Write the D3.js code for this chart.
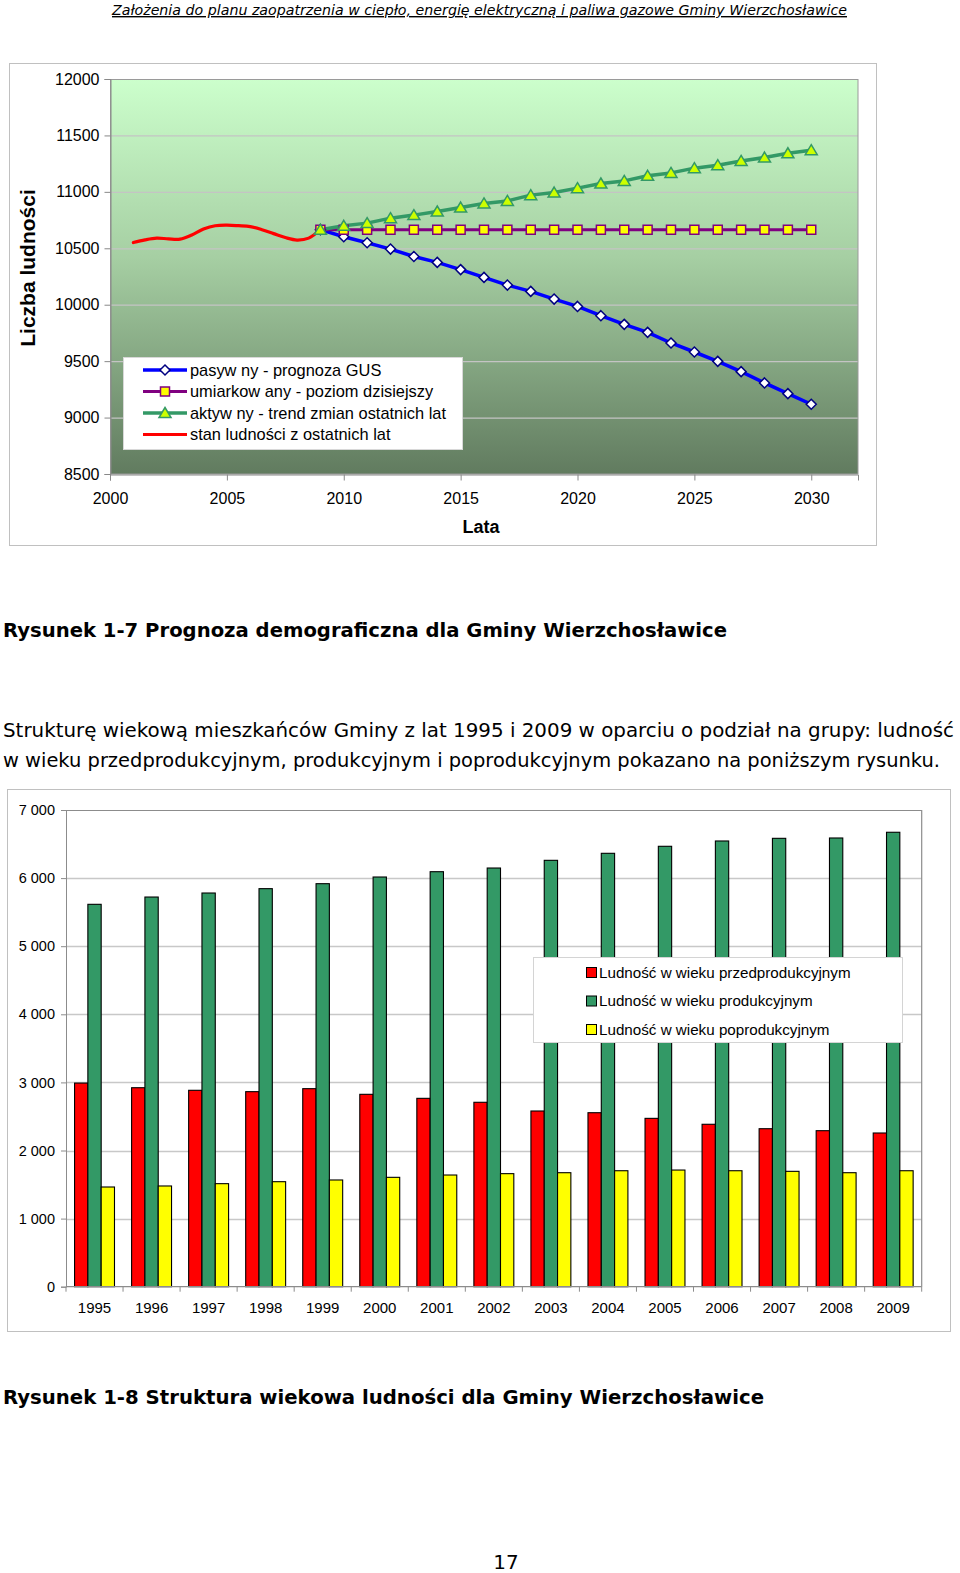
<!DOCTYPE html>
<html><head><meta charset="utf-8">
<script src="https://cdn.jsdelivr.net/npm/d3@7/dist/d3.min.js"></script>
<style>
body{margin:0;background:#fff}
svg{display:block}
</style>
</head><body>
<svg id="page" width="960" height="1573"></svg>
<script>
// ---------- DATA: chart 1 (Prognoza demograficzna) ----------
const forecastYears = [2009,2010,2011,2012,2013,2014,2015,2016,2017,2018,2019,2020,2021,2022,2023,2024,2025,2026,2027,2028,2029,2030];
const pasywny     = [10665,10602,10549,10493,10427,10375,10311,10242,10174,10118,10050,9985,9903,9826,9755,9661,9581,9498,9407,9307,9212,9118];
const umiarkowany = [10665,10665,10665,10665,10665,10665,10665,10665,10665,10665,10665,10665,10665,10665,10665,10665,10665,10665,10665,10665,10665,10665];
const aktywny     = [10665,10699,10723,10767,10794,10826,10861,10897,10920,10971,10994,11033,11074,11097,11142,11168,11210,11236,11274,11304,11342,11369];
const histYears   = [2001,2001.5,2002,2002.5,2003,2003.5,2004,2004.5,2005,2005.5,2006,2006.5,2007,2007.5,2008,2008.5,2009];
const histValues  = [10551,10575,10590,10583,10581,10618,10670,10700,10705,10700,10692,10665,10630,10595,10573,10590,10665];
const topYTicks   = [8500,9000,9500,10000,10500,11000,11500,12000];
const topXTicks   = [2000,2005,2010,2015,2020,2025,2030];
const lineNames   = ["pasyw ny - prognoza GUS","umiarkow any - poziom dzisiejszy","aktyw ny - trend zmian ostatnich lat","stan ludności z ostatnich lat"];

// ---------- DATA: chart 2 (Struktura wiekowa) ----------
const barYears = ["1995","1996","1997","1998","1999","2000","2001","2002","2003","2004","2005","2006","2007","2008","2009"];
const przedprodukcyjny = [2990,2922,2884,2864,2908,2825,2766,2708,2580,2555,2472,2385,2320,2291,2257];
const produkcyjny      = [5615,5722,5781,5845,5918,6016,6094,6148,6261,6364,6467,6545,6584,6589,6673];
const poprodukcyjny    = [1464,1479,1513,1542,1567,1606,1640,1660,1674,1703,1713,1703,1694,1674,1703];
const barSeriesNames = ["Ludność w wieku przedprodukcyjnym","Ludność w wieku produkcyjnym","Ludność w wieku poprodukcyjnym"];
const barYTicks = [0,1000,2000,3000,4000,5000,6000,7000];

const svg = d3.select("#page");
const ARIAL = "'Liberation Sans', Arial, sans-serif";
const TAHOMA = "'DejaVu Sans', Verdana, sans-serif";

// ---------- header ----------
svg.append("text").attr("x",112).attr("y",15)
  .attr("font-family",TAHOMA).attr("font-style","italic").attr("font-size",14)
  .attr("textLength",735).attr("lengthAdjust","spacingAndGlyphs")
  .attr("text-decoration","underline").attr("fill","#000")
  .text("Założenia do planu zaopatrzenia w ciepło, energię elektryczną i paliwa gazowe Gminy Wierzchosławice");

// ================= CHART 1 =================
svg.append("rect").attr("x",9.5).attr("y",63.5).attr("width",867).attr("height",482)
  .attr("fill","#fff").attr("stroke","#c0c0c0");

const x1 = d3.scaleLinear().domain([2000,2032]).range([110,858]);
const y1 = d3.scaleLinear().domain([8500,12000]).range([474,79]);

const defs = svg.append("defs");
const grad = defs.append("linearGradient").attr("id","bg1").attr("x1",0).attr("y1",0).attr("x2",0).attr("y2",1);
grad.append("stop").attr("offset","0%").attr("stop-color","#ccffcc");
grad.append("stop").attr("offset","45%").attr("stop-color","#a6cfa3");
grad.append("stop").attr("offset","100%").attr("stop-color","#617b5f");

svg.append("rect").attr("x",110).attr("y",79).attr("width",748).attr("height",395)
  .attr("fill","url(#bg1)");

// gridlines
svg.append("g").selectAll("line").data(topYTicks.filter(d=>d>8500 && d<12000)).join("line")
  .attr("x1",110).attr("x2",858).attr("y1",d=>y1(d)+0.5).attr("y2",d=>y1(d)+0.5)
  .attr("stroke","#c4c4c4").attr("stroke-width",1.2);
// plot border
svg.append("rect").attr("x",110.5).attr("y",79.5).attr("width",747.5).attr("height",394.5)
  .attr("fill","none").attr("stroke","#9a9a9a");

// axes
const yAx1 = svg.append("g").attr("transform","translate(110.5,0)")
  .call(d3.axisLeft(y1).tickValues(topYTicks).tickSize(6).tickPadding(5).tickFormat(d3.format("d")));
yAx1.select(".domain").attr("stroke","#888");
yAx1.selectAll(".tick line").attr("stroke","#888");
yAx1.selectAll("text").attr("font-family",ARIAL).attr("font-size",16).attr("fill","#000");

const xAx1 = svg.append("g").attr("transform","translate(0,474.5)")
  .call(d3.axisBottom(x1).tickValues(topXTicks).tickSize(6).tickPadding(12).tickFormat(d3.format("d")));
xAx1.select(".domain").attr("stroke","#888");
xAx1.selectAll(".tick line").attr("stroke","#888");
xAx1.selectAll("text").attr("font-family",ARIAL).attr("font-size",16).attr("fill","#000");

svg.append("text").attr("transform","translate(27,268) rotate(-90)")
  .attr("text-anchor","middle").attr("dominant-baseline","central")
  .attr("font-family",ARIAL).attr("font-weight","bold").attr("font-size",21).text("Liczba ludności");
svg.append("text").attr("x",481).attr("y",533).attr("text-anchor","middle")
  .attr("font-family",ARIAL).attr("font-weight","bold").attr("font-size",18).text("Lata");

// lines
const lineGen = d3.line().x(d=>x1(d[0])).y(d=>y1(d[1]));
const histLine = d3.line().x(d=>x1(d[0])).y(d=>y1(d[1])).curve(d3.curveCatmullRom);

const seriesCfg = [
  {vals:pasywny, color:"#0000ff", w:3.5, marker:"diamond", fill:"#fff", mstroke:"#000080"},
  {vals:umiarkowany, color:"#800080", w:3, marker:"square", fill:"#ffff00", mstroke:"#800080"},
  {vals:aktywny, color:"#339966", w:3.5, marker:"triangle", fill:"#ccff00", mstroke:"#339966"}
];
function markerPath(type){
  if(type==="diamond") return "M0,-5L5,0L0,5L-5,0Z";
  if(type==="square") return "M-4.5,-4.5H4.5V4.5H-4.5Z";
  return "M0,-5.5L6,4.5H-6Z";
}

svg.append("path").datum(histYears.map((y,i)=>[y,histValues[i]]))
  .attr("d",histLine).attr("fill","none").attr("stroke","#ff0000").attr("stroke-width",3.2)
  .attr("stroke-linejoin","round").attr("stroke-linecap","round");

seriesCfg.forEach(s=>{
  const pts = forecastYears.map((y,i)=>[y,s.vals[i]]);
  svg.append("path").datum(pts).attr("d",lineGen).attr("fill","none")
    .attr("stroke",s.color).attr("stroke-width",s.w).attr("stroke-linejoin","round");
});
seriesCfg.forEach(s=>{
  const pts = forecastYears.map((y,i)=>[y,s.vals[i]]);
  svg.append("g").selectAll("path").data(pts).join("path")
    .attr("transform",d=>`translate(${x1(d[0])},${y1(d[1])})`)
    .attr("d",markerPath(s.marker)).attr("fill",s.fill).attr("stroke",s.mstroke).attr("stroke-width",1.5);
});

// legend 1
const lg1 = svg.append("g");
lg1.append("rect").attr("x",123.5).attr("y",357.5).attr("width",339).attr("height",92)
  .attr("fill","#fff").attr("stroke","#d8d8d8");
const legRows = [370,391.5,413,434.5];
const legCfg = [...seriesCfg, {color:"#ff0000", w:3, marker:null}];
legCfg.forEach((s,i)=>{
  const yy = legRows[i];
  lg1.append("line").attr("x1",143).attr("x2",187).attr("y1",yy).attr("y2",yy)
    .attr("stroke",s.color).attr("stroke-width",s.w);
  if(s.marker) lg1.append("path").attr("transform",`translate(165,${yy})`).attr("d",markerPath(s.marker))
    .attr("fill",s.fill).attr("stroke",s.mstroke).attr("stroke-width",1.5);
  lg1.append("text").attr("x",190).attr("y",yy).attr("dy","0.36em")
    .attr("font-family",ARIAL).attr("font-size",16.4).text(lineNames[i]);
});

// caption 1
svg.append("text").attr("x",3).attr("y",637)
  .attr("font-family",TAHOMA).attr("font-weight","bold").attr("font-size",19)
  .attr("textLength",724).attr("lengthAdjust","spacingAndGlyphs")
  .text("Rysunek 1-7 Prognoza demograficzna dla Gminy Wierzchosławice");

// paragraph
svg.append("text").attr("x",3).attr("y",737)
  .attr("font-family",TAHOMA).attr("font-size",20)
  .attr("textLength",951).attr("lengthAdjust","spacingAndGlyphs")
  .text("Strukturę wiekową mieszkańców Gminy z lat 1995 i 2009 w oparciu o podział na grupy: ludność");
svg.append("text").attr("x",3).attr("y",767)
  .attr("font-family",TAHOMA).attr("font-size",19.5)
  .attr("textLength",937).attr("lengthAdjust","spacingAndGlyphs")
  .text("w wieku przedprodukcyjnym, produkcyjnym i poprodukcyjnym pokazano na poniższym rysunku.");

// ================= CHART 2 =================
svg.append("rect").attr("x",7.5).attr("y",789.5).attr("width",943).attr("height",542)
  .attr("fill","#fff").attr("stroke","#c0c0c0");

const x2 = d3.scaleBand().domain(barYears).range([66,921.7]).paddingInner(0.3).paddingOuter(0.15);
const x2in = d3.scaleBand().domain([0,1,2]).range([0,x2.bandwidth()]);
const y2 = d3.scaleLinear().domain([0,7000]).range([1286.7,810]);

svg.append("g").selectAll("line").data(barYTicks.filter(d=>d>0)).join("line")
  .attr("x1",66).attr("x2",921.7).attr("y1",d=>Math.round(y2(d))+0.5).attr("y2",d=>Math.round(y2(d))+0.5)
  .attr("stroke",d=>d===7000?"#8c8c8c":"#c8c8c8").attr("stroke-width",d=>d===7000?1.2:1.5);
svg.append("line").attr("x1",921.7).attr("x2",921.7).attr("y1",810).attr("y2",1286.7).attr("stroke","#8c8c8c").attr("stroke-width",1.2);

const locale = d3.formatLocale({decimal:",",thousands:"\u00a0",grouping:[3],currency:["","zł"]});
const yAx2 = svg.append("g").attr("transform","translate(66,0)")
  .call(d3.axisLeft(y2).tickValues(barYTicks).tickSize(5).tickPadding(6).tickFormat(locale.format(",d")));
yAx2.select(".domain").attr("stroke","#8c8c8c");
yAx2.selectAll(".tick line").attr("stroke","#8c8c8c");
yAx2.selectAll("text").attr("font-family",ARIAL).attr("font-size",14.5).attr("fill","#000");

const barData = [przedprodukcyjny, produkcyjny, poprodukcyjny];
const barColors = ["#ff0000","#339966","#ffff00"];
barYears.forEach((yr,i)=>{
  const g = svg.append("g").attr("transform",`translate(${x2(yr)},0)`);
  g.selectAll("rect").data(barData.map((arr,k)=>({k,v:arr[i]}))).join("rect")
    .attr("x",d=>x2in(d.k)).attr("width",x2in.bandwidth())
    .attr("y",d=>y2(d.v)).attr("height",d=>y2(0)-y2(d.v))
    .attr("fill",d=>barColors[d.k]).attr("stroke","#000").attr("stroke-width",1.1);
});

// x axis 2 with ticks at category boundaries
const xAxG = svg.append("g").attr("transform","translate(0,1286.7)");
xAxG.append("line").attr("x1",66).attr("x2",921.7).attr("stroke","#8c8c8c").attr("stroke-width",1.2);
const step = x2.step();
xAxG.selectAll("line.tk").data(barYears.concat(["end"])).join("line").attr("class","tk")
  .attr("x1",(d,i)=>66+i*step).attr("x2",(d,i)=>66+i*step).attr("y1",0).attr("y2",5)
  .attr("stroke","#8c8c8c");
xAxG.selectAll("text").data(barYears).join("text")
  .attr("x",d=>x2(d)+x2.bandwidth()/2).attr("y",26).attr("text-anchor","middle")
  .attr("font-family",ARIAL).attr("font-size",15).text(d=>d);

// legend 2
const lg2 = svg.append("g");
lg2.append("rect").attr("x",533.5).attr("y",957.5).attr("width",369).attr("height",85)
  .attr("fill","#fff").attr("stroke","#d4d4d4");
const lg2Rows = [972.5,1001,1029.5];
barSeriesNames.forEach((n,i)=>{
  lg2.append("rect").attr("x",586.5).attr("y",lg2Rows[i]-5).attr("width",10).attr("height",10)
    .attr("fill",barColors[i]).attr("stroke","#000");
  lg2.append("text").attr("x",599).attr("y",lg2Rows[i]).attr("dy","0.36em")
    .attr("font-family",ARIAL).attr("font-size",15.2).text(n);
});

// caption 2
svg.append("text").attr("x",3).attr("y",1404)
  .attr("font-family",TAHOMA).attr("font-weight","bold").attr("font-size",19)
  .attr("textLength",761).attr("lengthAdjust","spacingAndGlyphs")
  .text("Rysunek 1-8 Struktura wiekowa ludności dla Gminy Wierzchosławice");

// page number
svg.append("text").attr("x",506).attr("y",1569).attr("text-anchor","middle")
  .attr("font-family",TAHOMA).attr("font-size",20).text("17");
</script>
</body></html>
